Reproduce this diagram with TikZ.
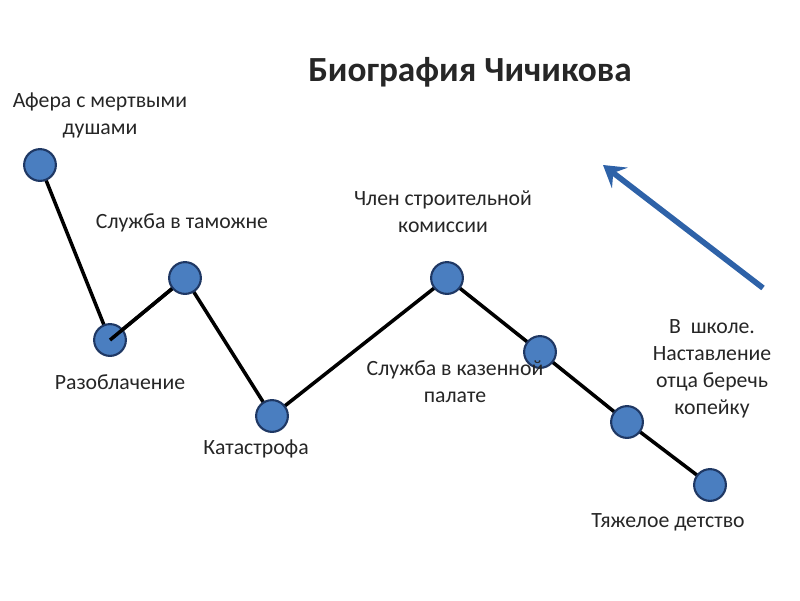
\documentclass[tikz,border=0pt]{standalone}
\usepackage{fontspec}
\setmainfont{Carlito}
\usetikzlibrary{arrows.meta}

\definecolor{dotfill}{HTML}{4A7EC0}
\definecolor{dotline}{HTML}{1F3864}
\definecolor{arrowblue}{HTML}{2E62A8}

\tikzset{
    point/.style={circle, fill=dotfill, draw=dotline, line width=1.8pt, minimum size=27pt, inner sep=0pt},
    lbl/.style={align=center, text=black!85, font=\fontsize{18.5}{23}\selectfont},
    path/.style={line width=3pt, black}
}

\begin{document}
\begin{tikzpicture}[x=0.85pt, y=-0.85pt]
    % Canvas
    \useasboundingbox (0,0) rectangle (800,600);

    % Title
    \node[font=\fontsize{30}{34}\selectfont\bfseries, text=black!85] (title) at (470,72) {Биография Чичикова};

    % Points of the biography
    \coordinate (afera) at (40,165);
    \coordinate (razobl) at (110,340);
    \coordinate (tamozh) at (185,278);
    \coordinate (katastr) at (272,416);
    \coordinate (chlen) at (447,278);
    \coordinate (palata) at (540,352);
    \coordinate (shkola) at (627,422);
    \coordinate (detstvo) at (710,485);

    % Broken line through the points
    \draw[path] (afera) -- (razobl) -- (tamozh) -- (katastr) -- (chlen) -- (palata) -- (shkola) -- (detstvo);

    % Circles on top
    \foreach \p in {afera,tamozh,katastr,chlen,palata,shkola,detstvo}
        \node[point] (\p-dot) at (\p) {};
    \node[point] (razobl-dot) at (razobl) {};
    \draw[path] (razobl) -- (tamozh-dot);

    % Labels
    \node[lbl] (afera-txt) at (100,115) {Афера с мертвыми\\душами};
    \node[lbl] (tamozh-txt) at (182,223) {Служба в таможне};
    \node[lbl] (razobl-txt) at (120,382) {Разоблачение};
    \node[lbl] (katastr-txt) at (256,449) {Катастрофа};
    \node[lbl] (chlen-txt) at (443,212) {Член строительной\\комиссии};
    \node[lbl] (palata-txt) at (455,382) {Служба в казенной\\палате};
    \node[lbl] (shkola-txt) at (712,369) {В~~школе.\\Наставление\\отца беречь\\копейку};
    \node[lbl] (detstvo-txt) at (668,522) {Тяжелое детство};

    % Direction of the story
    \coordinate (arrfrom) at (763,288);
    \coordinate (arrto) at (603,165);
    \draw[arrowblue, line width=4.8pt, -{Stealth[length=18pt, width=22pt, inset=7pt]}] (arrfrom) -- (arrto);
\end{tikzpicture}
\end{document}
